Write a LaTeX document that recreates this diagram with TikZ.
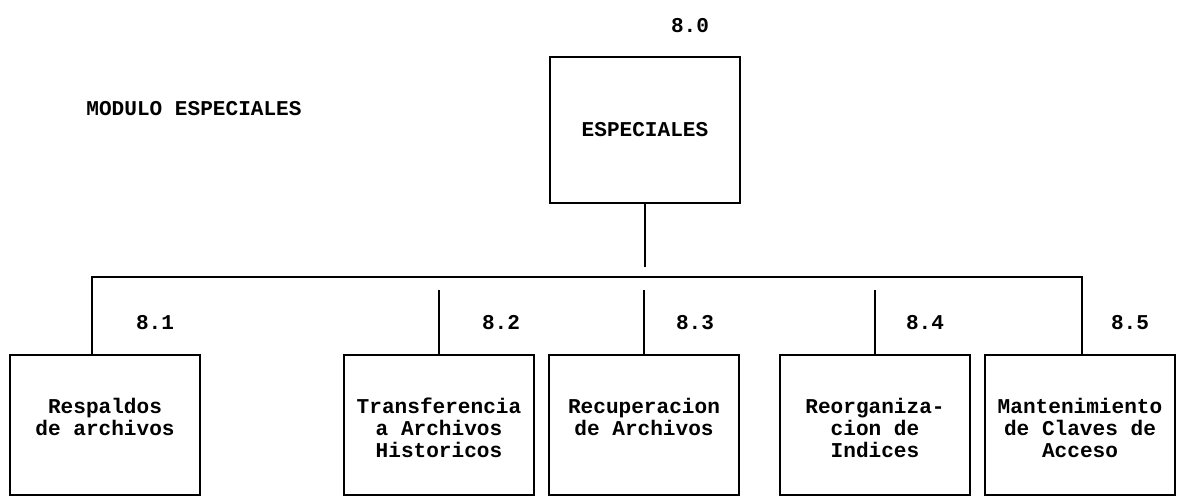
\documentclass[tikz,border=0pt]{standalone}
\usepackage{fontspec}
\setmainfont{Liberation Mono}
\usepackage{tikz}
\usetikzlibrary{positioning}

\begin{document}
\begin{tikzpicture}[x=0.025cm, y=-0.025cm,
    box/.style={draw, line width=1.3pt, minimum width=4.75cm, minimum height=3.5cm, inner sep=0pt},
    tbox/.style={box, minimum height=3.65cm, font=\bfseries\fontsize{15}{15.6}\selectfont},
    txt/.style={align=center, inner sep=0pt, font=\bfseries\fontsize{15}{15.6}\selectfont},
    num/.style={inner sep=0pt, font=\bfseries\fontsize{15}{15.6}\selectfont},
    line/.style={line width=1.3pt}]
      \useasboundingbox (0,0) rectangle (1179,496);
      \node[name=title, num] at (194,109) {MODULO ESPECIALES};
      \node[name=top, tbox] at (645,130) {ESPECIALES};
      \node[name=n0, num] at (690,26) {8.0};
      \node[name=s1, box] at (105,425) {};
      \node[name=s2, box] at (439,425) {};
      \node[name=s3, box] at (644,425) {};
      \node[name=s4, box] at (875,425) {};
      \node[name=s5, box] at (1080,425) {};
      \node[name=t1, txt, below=1.1cm of s1.north] {Respaldos\\de archivos};
      \node[name=t2, txt, below=1.1cm of s2.north] {Transferencia\\a Archivos\\Historicos};
      \node[name=t3, txt, below=1.1cm of s3.north] {Recuperacion\\de Archivos};
      \node[name=t4, txt, below=1.1cm of s4.north] {Reorganiza-\\cion de\\Indices};
      \node[name=t5, txt, below=1.1cm of s5.north] {Mantenimiento\\de Claves de\\Acceso};
      \coordinate (c0) at (645,267);
      \coordinate (bl) at (92,277);
      \coordinate (br) at (1082,277);
      \coordinate (d2) at (439,290);
      \coordinate (d3) at (644,290);
      \coordinate (d4) at (875,290);
      \draw[line] (top.south) -- (c0);
      \draw[line] (s1.north -| bl) -- (bl) -- (br) -- (s5.north -| br);
      \draw[line] (d2) -- (s2.north);
      \draw[line] (d3) -- (s3.north);
      \draw[line] (d4) -- (s4.north);
      \node[name=n1, num] at (155,323) {8.1};
      \node[name=n2, num] at (501,323) {8.2};
      \node[name=n3, num] at (695,323) {8.3};
      \node[name=n4, num] at (925,323) {8.4};
      \node[name=n5, num] at (1130,323) {8.5};
   \end{tikzpicture}
\end{document}
